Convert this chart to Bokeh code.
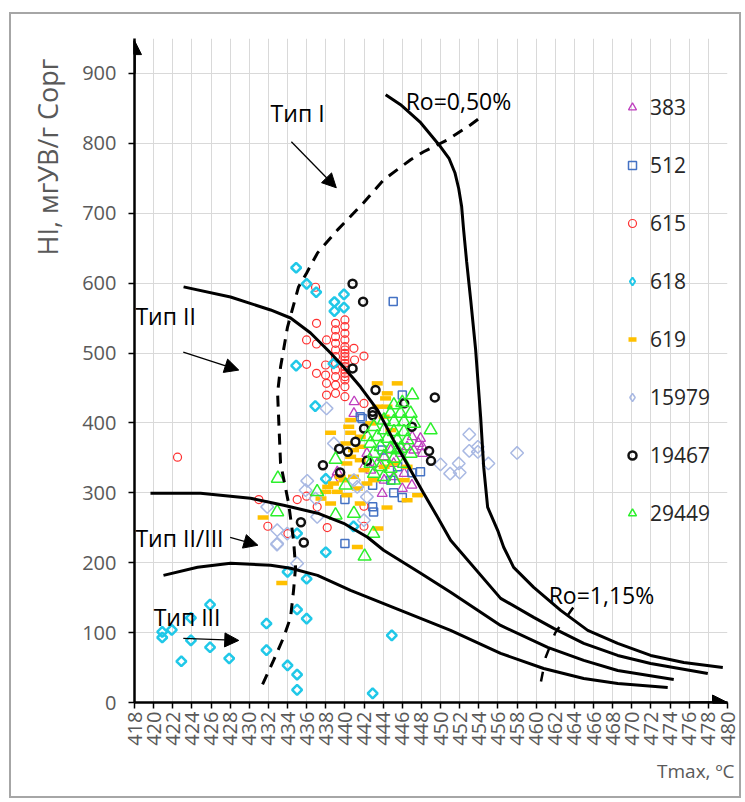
import math
from bokeh.plotting import figure
from bokeh.models import Range1d, Label, Arrow, NormalHead, Legend, LegendItem, FixedTicker, Title
from bokeh.embed import file_html
from bokeh.resources import INLINE

FONT = "Open Sans"

# ---------------- data (Tmax, HI) ----------------
s383_t = [440.97, 440.94, 447.04, 447.9, 448.1, 448.1, 447.2, 445.8, 444.8, 444.1, 443.4, 442.7,
          444.1, 445.1, 446.2, 447.0, 443.9, 446.0, 439.2, 438.8, 442.0, 447.7, 446.5, 445.1, 442.3]
s383_hi = [430.3, 413.6, 380.2, 377.8, 365.9, 356.3, 361.1, 356.3, 361.1, 351.5, 342.0, 332.4,
           318.1, 322.9, 327.6, 310.9, 299.0, 306.2, 330.0, 318.1, 337.2, 370.6, 365.9, 342.0, 356.3]

s512_t = [445.05, 446.0, 441.6, 447.9, 447.0, 445.1, 446.0, 442.9, 443.0, 440.0, 440.0, 441.8,
          444.8, 445.5, 443.9, 442.9]
s512_hi = [573.6, 439.9, 408.8, 330.0, 328.6, 300.0, 293.3, 279.9, 272.7, 290.4, 227.4, 406.4,
           318.1, 337.2, 361.1, 311.0]

s615_t = [436.93, 437.03, 435.99, 437.03, 438.08,
          439.02, 439.02, 439.02, 439.02, 439.02, 439.02, 439.02, 439.02, 439.02, 439.02, 439.02,
          440.0, 440.0, 440.0, 440.0, 440.0, 440.0, 440.0, 440.0, 440.0, 440.0, 440.0, 440.0,
          440.0, 440.0, 440.0, 440.0, 440.0,
          440.94, 441.99, 441.01, 437.98, 437.98, 438.08, 438.08, 441.99, 435.99, 437.03,
          431.0, 435.01, 431.94, 435.99, 437.1, 438.15, 441.99, 441.99, 434.04, 422.5]
s615_hi = [594.1, 542.5, 518.7, 512.9, 518.7,
           542.5, 533.0, 523.4, 513.9, 504.3, 494.8, 485.2, 475.7, 466.1, 454.2, 442.3,
           547.3, 537.8, 528.2, 518.7, 509.1, 504.3, 499.6, 494.8, 490.0, 485.2, 480.5, 475.7,
           470.9, 466.1, 461.4, 451.8, 437.5,
           506.7, 495.7, 490.0, 482.9, 468.5, 456.6, 439.9, 427.9, 483.8, 470.9,
           290.4, 290.4, 252.2, 295.2, 279.9, 250.3, 280.8, 252.2, 241.7, 351.0]

s618_t = [434.9, 436.0, 437.0, 438.9, 439.9, 438.9, 439.9, 434.9, 436.9, 438.8, 438.0, 440.9,
          435.0, 438.0, 420.9, 420.9, 421.9, 423.9, 423.9, 422.9, 425.9, 425.9, 427.9, 431.8,
          431.8, 434.0, 435.0, 435.0, 435.0, 436.0, 434.0, 436.0, 442.9, 444.9]
s618_hi = [622, 599, 587, 573, 584, 560, 565, 482, 424, 485, 320, 252,
           242, 215, 101, 93, 104, 121, 89, 59, 140, 79, 63, 113,
           75, 53, 40, 18, 133, 120, 187, 177, 13, 96]

s619_t = [443.38, 445.47, 444.43, 444.25, 444.4, 440.6, 440.4, 438.5, 440.6, 441.6, 441.6, 440.9,
          440.6, 441.6, 442.0, 440.9, 439.9, 438.8, 438.2, 439.2, 440.2, 441.3, 442.3, 443.0,
          444.1, 445.1, 446.5, 446.2, 446.5, 447.6, 444.4, 443.45, 441.3, 431.45, 438.5, 437.5,
          438.0, 439.5, 440.2, 440.1, 443.4, 444.1, 442.7, 444.8, 441.6, 433.4]
s619_hi = [456.6, 456.6, 442.3, 435.1, 423.2, 404.1, 394.5, 385.9, 385.9, 380.2, 365.9, 361.1,
           351.5, 346.7, 332.4, 322.9, 318.1, 313.3, 308.5, 301.4, 296.6, 306.2, 313.3, 318.1,
           337.2, 342.0, 337.2, 318.1, 289.4, 296.6, 278.9, 248.9, 222.6, 264.6, 284.7, 291.8,
           301.4, 322.9, 342.0, 370.6, 423.2, 408.8, 399.3, 389.7, 284.7, 171.0]

s15979_t = [453.0, 453.0, 453.9, 453.9, 455.0, 458.0, 451.9, 451.0, 452.0, 450.0,
            436.06, 438.85, 438.08, 435.89, 436.93, 431.88, 432.92, 432.92, 433.97, 437.1,
            441.99, 441.29, 440.94, 442.3, 432.9, 435.0]
s15979_hi = [383.5, 360.0, 365.8, 358.6, 342.0, 357.0, 342.0, 327.5, 329.0, 340.6,
             317.1, 370.6, 420.8, 303.8, 291.8, 279.9, 227.4, 246.5, 241.7, 265.6,
             260.8, 308.5, 318.1, 294.2, 226.0, 199.0]

s19467_t = [440.8, 441.9, 440.8, 443.2, 449.4, 442.9, 442.9, 442.0, 441.1, 439.4, 440.3, 437.7,
            439.5, 442.3, 448.8, 449.0, 447.0, 435.4, 435.7, 446.2]
s19467_hi = [599, 573.5, 478, 447, 436.5, 416, 411, 392, 373, 363, 358.6, 339.5,
             329, 345.7, 360, 345.7, 394.4, 258, 229, 428]

s29449_t = [445.12, 446.0, 447.04, 444.77, 445.82, 446.87, 444.08, 445.12, 446.17, 447.22,
            443.03, 444.08, 445.12, 446.17, 443.38, 444.43, 445.47, 446.52, 442.68, 443.73,
            444.77, 445.82, 443.03, 444.08, 445.12, 442.68, 443.73, 444.77, 443.03, 444.08,
            445.12, 446.17, 446.87, 442.33, 445.47, 448.96, 432.99, 439.02, 437.1, 440.07,
            432.92, 439.02, 440.94, 442.96, 442.06]
s29449_hi = [425.5, 428.9, 439.9, 413.6, 413.6, 413.6, 404.0, 401.7, 401.7, 399.3,
             394.5, 389.7, 387.3, 387.3, 380.2, 377.8, 375.4, 375.4, 370.6, 365.9,
             363.5, 363.5, 356.3, 351.5, 349.1, 342.0, 337.2, 334.8, 327.6, 322.9,
             318.1, 342.0, 356.3, 380.2, 361.1, 389.7, 320.5, 347.7, 301.4, 310.9,
             272.7, 268.0, 270.3, 241.7, 209.2]

# boundary curves
ro050_t = [444.26, 445.82, 447.92, 450.0, 450.9, 451.5, 451.9, 452.2, 452.41, 452.73, 453.15, 453.67,
           454.19, 454.51, 454.92, 455.97, 456.6, 457.64, 459.74, 462.56, 465.39, 468.52, 471.97,
           475.43, 479.51]
ro050_hi = [869.6, 855.3, 829.5, 795.1, 778.0, 758.0, 735.0, 710.0, 676.2, 630.4, 575.9, 504.3,
            408.3, 336.7, 279.4, 246.4, 222.1, 193.4, 164.8, 131.8, 103.2, 84.5, 67.3,
            57.3, 50.1]

typeI_II_t = [423.13, 428.04, 432.23, 434.32, 436.41, 438.5, 439.86, 441.64, 443.42, 445.09, 446.87,
              448.23, 449.69, 451.05, 456.28, 459.74, 461.83, 464.97, 468.52, 471.97, 477.94]
typeI_II_hi = [594.6, 580.2, 561.6, 550.1, 528.7, 500.0, 479.9, 451.3, 418.3, 375.4, 332.4,
               299.4, 265.0, 232.1, 149.0, 121.8, 106.0, 84.5, 67.3, 55.9, 41.5]

typeII_III_t = [419.67, 424.9, 430.13, 433.59, 437.14, 439.86, 442.37, 444.05, 447.92, 451.05,
                456.28, 461.2, 464.97, 468.52, 474.38]
typeII_III_hi = [299.4, 299.4, 292.3, 282.2, 270.8, 256.4, 236.4, 217.8, 184.8, 157.6,
                 110.3, 78.8, 60.2, 45.8, 33.0]

typeIII_t = [421.03, 424.59, 428.04, 432.23, 434.32, 437.14, 440.59, 445.82, 451.05, 456.28,
             460.78, 464.97, 468.52, 473.75]
typeIII_hi = [181.9, 193.4, 199.1, 196.3, 192.0, 181.9, 160.5, 131.8, 103.2, 70.2,
              48.7, 34.4, 27.2, 21.5]

iso050_t = [431.39, 432.54, 433.59, 434.32, 434.63, 434.84, 434.63, 434.11, 433.27, 432.96, 433.27,
            434.0, 435.15, 436.0, 437.14, 439.23, 441.95, 444.05, 446.87, 448.23, 450.74, 453.15, 453.98]
iso050_hi = [25.8, 60.2, 93.1, 121.8, 160.5, 193.4, 232.1, 285.1, 342.4, 442.7, 479.9,
             537.2, 594.6, 614.6, 643.3, 676.2, 714.9, 747.9, 776.5, 788.0, 805.2, 826.6, 835.2]

iso115_t = [460.5, 461.0, 462.0, 464.5]
iso115_hi = [30.0, 65.0, 100.0, 148.0]

x_ticks = list(range(418, 481, 2))
y_ticks = list(range(0, 901, 100))

# ---------------- figure ----------------
p = figure(width=732, height=786, output_backend="svg", toolbar_location=None,
           x_range=Range1d(418, 480), y_range=Range1d(0, 950),
           min_border_left=123, min_border_right=16, min_border_top=24, min_border_bottom=98)
p.styles = {"border": "2px solid #a6a6a6", "margin-left": "9px", "margin-top": "12px"}
p.outline_line_color = None
p.background_fill_color = "white"

for ax in (p.xaxis[0], p.yaxis[0]):
    ax.axis_line_color = "black"
    ax.axis_line_width = 2.5
    ax.major_tick_line_color = "black"
    ax.major_tick_line_width = 1.5
    ax.major_tick_out = 6
    ax.major_tick_in = 0
    ax.minor_tick_line_color = None
    ax.major_label_text_color = "#595959"
    ax.major_label_text_font = FONT

p.xaxis.ticker = FixedTicker(ticks=x_ticks)
p.yaxis.ticker = FixedTicker(ticks=y_ticks)
p.xaxis.major_label_orientation = math.pi / 2
p.xaxis.major_label_text_font_size = "20px"
p.xaxis.major_label_standoff = 3
p.yaxis.major_label_text_font_size = "20px"
p.yaxis.major_label_standoff = 12

p.xgrid.grid_line_color = "#d9d9d9"
p.ygrid.grid_line_color = "#d9d9d9"
p.xgrid.grid_line_width = 1
p.ygrid.grid_line_width = 1

# axis titles (as side titles so they are not clipped)
ytitle = Title(text="HI, мгУВ/г Сорг", align="right", offset=20, standoff=27,
               text_font=FONT, text_font_size="27px", text_color="#595959", text_font_style="normal")
p.add_layout(ytitle, "left")
xtitle = Title(text="Tmax, ºC", align="right", offset=-7, standoff=14,
               text_font=FONT, text_font_size="19px", text_color="#595959", text_font_style="normal")
p.add_layout(xtitle, "below")

# ---------------- series ----------------
r383 = p.scatter(s383_t, s383_hi, marker="triangle", size=10, fill_color=None,
                 line_color="#BF3FBF", line_width=1.3)
r512 = p.scatter(s512_t, s512_hi, marker="square", size=8, fill_color=None,
                 line_color="#4472C4", line_width=1.5)
r615 = p.scatter(s615_t, s615_hi, marker="circle", size=8, fill_color=None,
                 line_color="#FF3030", line_width=1.2)
r618 = p.scatter(s618_t, s618_hi, marker="square", angle=math.pi / 4, size=7, fill_color=None,
                 line_color="#20C8E8", line_width=2.5)
r619 = p.scatter(s619_t, s619_hi, marker="dash", size=11, line_color="#FFC000", line_width=4.5)
r15979 = p.scatter(s15979_t, s15979_hi, marker="square", angle=math.pi / 4, size=9, fill_color=None,
                   line_color="#A9B9E3", line_width=1.5)
r19467 = p.scatter(s19467_t, s19467_hi, marker="circle", size=8, fill_color=None,
                   line_color="#111111", line_width=2.5)
r29449 = p.scatter(s29449_t, s29449_hi, marker="triangle", size=13, fill_color=None,
                   line_color="#2CF02C", line_width=1.5)

# legend-only glyphs for the diamond series (legend ignores marker angle); zero size on the plot
leg618 = p.scatter(s618_t[:1], s618_hi[:1], marker="diamond", size=0, fill_color=None,
                   line_color="#20C8E8", line_width=2)
leg15979 = p.scatter(s15979_t[:1], s15979_hi[:1], marker="diamond", size=0, fill_color=None,
                     line_color="#A9B9E3", line_width=1.5)

# ---------------- curves ----------------
for xs, ys in ((ro050_t, ro050_hi), (typeI_II_t, typeI_II_hi),
               (typeII_III_t, typeII_III_hi), (typeIII_t, typeIII_hi)):
    p.line(xs, ys, line_color="black", line_width=3)
p.line(iso050_t, iso050_hi, line_color="black", line_width=3, line_dash="11 8")
p.line(iso115_t, iso115_hi, line_color="black", line_width=2.5, line_dash="10 14")

# axis arrows
p.add_layout(Arrow(end=NormalHead(size=15, fill_color="black", line_color="black"),
                   x_start=476, y_start=0, x_end=480, y_end=0, line_width=2.5, line_color="black"))
p.add_layout(Arrow(end=NormalHead(size=14, fill_color="black", line_color="black"),
                   x_start=418, y_start=900, x_end=418, y_end=947, line_width=2.5, line_color="black"))

# type arrows
for (x0, y0, x1, y1) in ((434.4, 802.3, 439.1, 736.4), (423.1, 501.4, 428.9, 475.6),
                         (428.0, 236.4, 430.9, 225.0), (423.1, 91.7, 428.9, 88.8)):
    p.add_layout(Arrow(end=NormalHead(size=14, fill_color="black", line_color="black"),
                       x_start=x0, y_start=y0, x_end=x1, y_end=y1, line_width=1.3, line_color="black"))

def lab(x, y, t, size="23px", align="left", color="black", angle=0.0):
    p.add_layout(Label(x=x, y=y, text=t, text_font=FONT, text_font_size=size,
                       text_color=color, text_align=align, text_baseline="middle", angle=angle))

lab(435.05, 843.8, "Тип I", align="center")
lab(418.1, 553.0, "Тип II")
lab(418.1, 235.0, "Тип II/III")
lab(420.0, 121.8, "Тип III")
lab(446.35, 861.0, "Ro=0,50%")
lab(461.3, 153.3, "Ro=1,15%")

# ---------------- legend ----------------
legend = Legend(items=[LegendItem(label="383", renderers=[r383]),
                       LegendItem(label="512", renderers=[r512]),
                       LegendItem(label="615", renderers=[r615]),
                       LegendItem(label="618", renderers=[leg618]),
                       LegendItem(label="619", renderers=[r619]),
                       LegendItem(label="15979", renderers=[leg15979]),
                       LegendItem(label="19467", renderers=[r19467]),
                       LegendItem(label="29449", renderers=[r29449])],
                location=(488, 175), orientation="vertical")
legend.border_line_color = None
legend.background_fill_alpha = 0
legend.label_text_font = FONT
legend.label_text_font_size = "21px"
legend.label_text_color = "#262626"
legend.spacing = 30
legend.glyph_height = 22
legend.glyph_width = 20
legend.label_height = 22
legend.padding = 0
legend.margin = 0
legend.label_standoff = 8
p.add_layout(legend)

open("out.html", "w").write(file_html(p, INLINE))
